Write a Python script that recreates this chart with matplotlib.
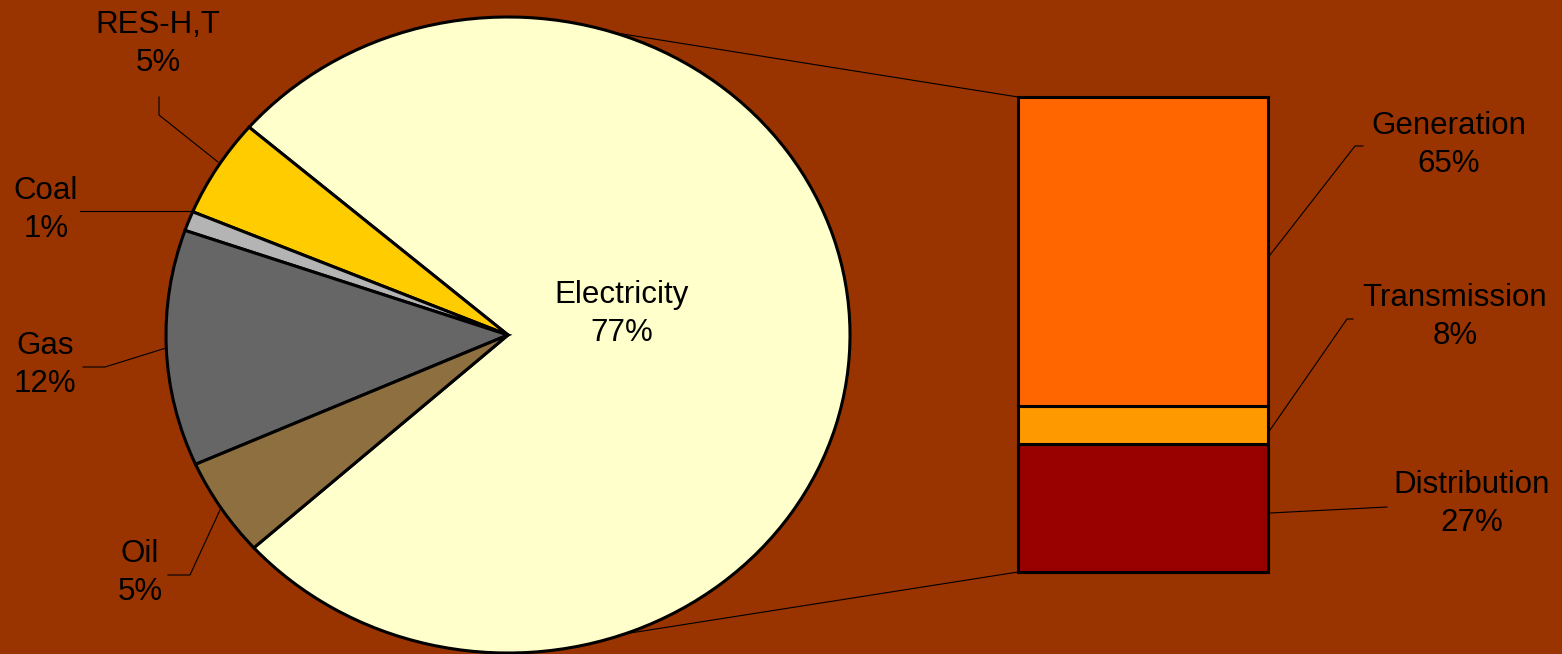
import numpy as np
import matplotlib.pyplot as plt
from matplotlib.patches import ConnectionPatch

# Data
pie_labels = ['Electricity', 'RES-H,T', 'Coal', 'Gas', 'Oil']
pie_values = [77, 5, 1, 12, 5]
pie_colors = ['#FFFFCC', '#FFCC00', '#B4B4B4', '#666666', '#8E7040']

bar_labels = ['Distribution', 'Transmission', 'Generation']
bar_values = [27, 8, 65]
bar_colors = ['#990000', '#FF9900', '#FF6600']

bg = '#993300'
W, H = 1562, 654
plt.rcParams['font.family'] = ['Liberation Sans', 'DejaVu Sans']


def px_box(x0, y0, x1, y1):
    # axes rectangle from pixel corners (y downwards)
    return [x0 / W, 1 - y1 / H, (x1 - x0) / W, (y1 - y0) / H]


fig = plt.figure(figsize=(W / 100, H / 100), dpi=100, facecolor=bg)

# Pie (slightly flattened, like the original)
pie_ax = fig.add_axes(px_box(166, 17, 850, 653))
wedges, _ = pie_ax.pie(pie_values, colors=pie_colors, startangle=222,
                       counterclock=True,
                       wedgeprops=dict(edgecolor='black', linewidth=2.2, clip_on=False))
pie_ax.set_aspect('auto')
pie_ax.set_xlim(-1, 1)
pie_ax.set_ylim(-1, 1)
pie_ax.axis('off')

# Stacked bar for the electricity breakdown
bar_ax = fig.add_axes(px_box(1018, 97, 1268, 572))
bottom = 0
for v, c in zip(bar_values, bar_colors):
    bar_ax.bar(0, v, bottom=bottom, width=1, color=c, edgecolor='black',
               linewidth=2.2, clip_on=False)
    bottom += v
bar_ax.set_xlim(-0.5, 0.5)
bar_ax.set_ylim(0, sum(bar_values))
bar_ax.axis('off')

# Connector lines pie -> bar
for ang, yb in [(72, sum(bar_values)), (-70, 0)]:
    t = np.deg2rad(ang)
    con = ConnectionPatch(xyA=(np.cos(t), np.sin(t)), coordsA=pie_ax.transData,
                          xyB=(-0.5, yb), coordsB=bar_ax.transData,
                          color='black', linewidth=0.8)
    fig.add_artist(con)

# Overlay in pixel coordinates for labels and leader lines
ov = fig.add_axes([0, 0, 1, 1])
ov.set_xlim(0, W)
ov.set_ylim(H, 0)
ov.axis('off')

pie_label_pos = [(622, 314), (158, 44), (46, 210), (45, 365), (140, 573)]
for lab, v, (x, y) in zip(pie_labels, pie_values, pie_label_pos):
    ov.text(x, y, f'{lab}\n{v}%', ha='center', va='center', fontsize=22.5,
            linespacing=1.35, color='black')

bar_label_pos = [(1472, 504), (1455, 317), (1449, 145)]
for lab, v, (x, y) in zip(bar_labels, bar_values, bar_label_pos):
    ov.text(x, y, f'{lab}\n{v}%', ha='center', va='center', fontsize=22.5,
            linespacing=1.35, color='black')

leaders = [
    [(159, 97), (159, 115), (218, 162)],      # RES-H,T
    [(80, 211), (190, 211)],                   # Coal
    [(83, 367), (105, 367), (166, 348)],       # Gas
    [(168, 575), (190, 575), (220, 510)],      # Oil
    [(1270, 255), (1355, 146), (1363, 146)],   # Generation
    [(1270, 430), (1347, 319), (1353, 319)],   # Transmission
    [(1270, 513), (1387, 507)],                # Distribution
]
for pts in leaders:
    xs, ys = zip(*pts)
    ov.plot(xs, ys, color='black', linewidth=0.8)

fig.savefig('out.png', dpi=100, facecolor=bg)
